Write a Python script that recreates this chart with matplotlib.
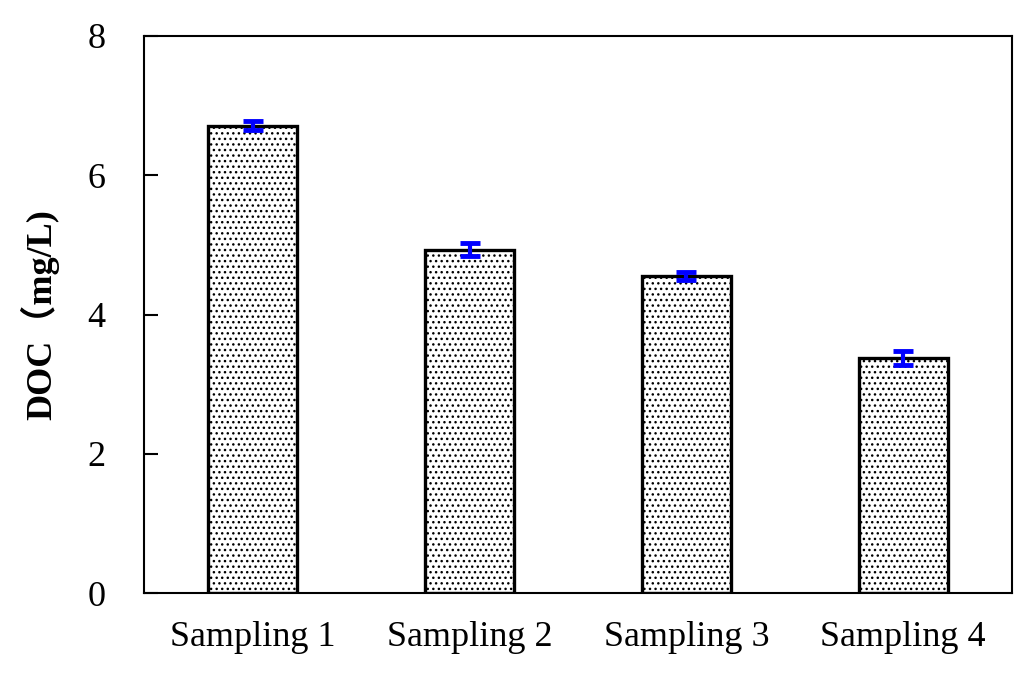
import numpy as np
import matplotlib.pyplot as plt

# Values
samples = ["Sampling 1", "Sampling 2", "Sampling 3", "Sampling 4"]
doc_values = [6.71, 4.93, 4.55, 3.37]
doc_errors = [0.06, 0.09, 0.06, 0.10]

plt.rcParams['font.family'] = ['Liberation Serif', 'Noto Sans CJK JP', 'DejaVu Serif']
plt.rcParams['hatch.linewidth'] = 1.0

fig = plt.figure(figsize=(10.24, 6.75), dpi=100)
ax = fig.add_axes([0.141, 0.121, 0.847, 0.826])

x = np.arange(len(samples))
ax.bar(x, doc_values, width=0.41, color="white", edgecolor="black",
       linewidth=2.4, hatch="...", zorder=2)
ax.errorbar(x, doc_values, yerr=doc_errors, fmt="none", ecolor="#0000ff",
            elinewidth=3, capsize=7, capthick=3.5, zorder=3)

ax.set_xlim(-0.5, 3.5)
ax.set_ylim(0, 8)
ax.set_yticks([0, 2, 4, 6, 8])
ax.set_xticks(x)
ax.set_xticklabels(samples)
ax.tick_params(axis="y", direction="in", length=10, width=1.5, labelsize=26, pad=28)
ax.tick_params(axis="x", length=0, labelsize=26, pad=20)
for spine in ax.spines.values():
    spine.set_linewidth(1.5)

ax.set_ylabel("DOC\uff08mg/L)", fontsize=26, fontweight="bold", labelpad=20)

plt.savefig("out.png")
